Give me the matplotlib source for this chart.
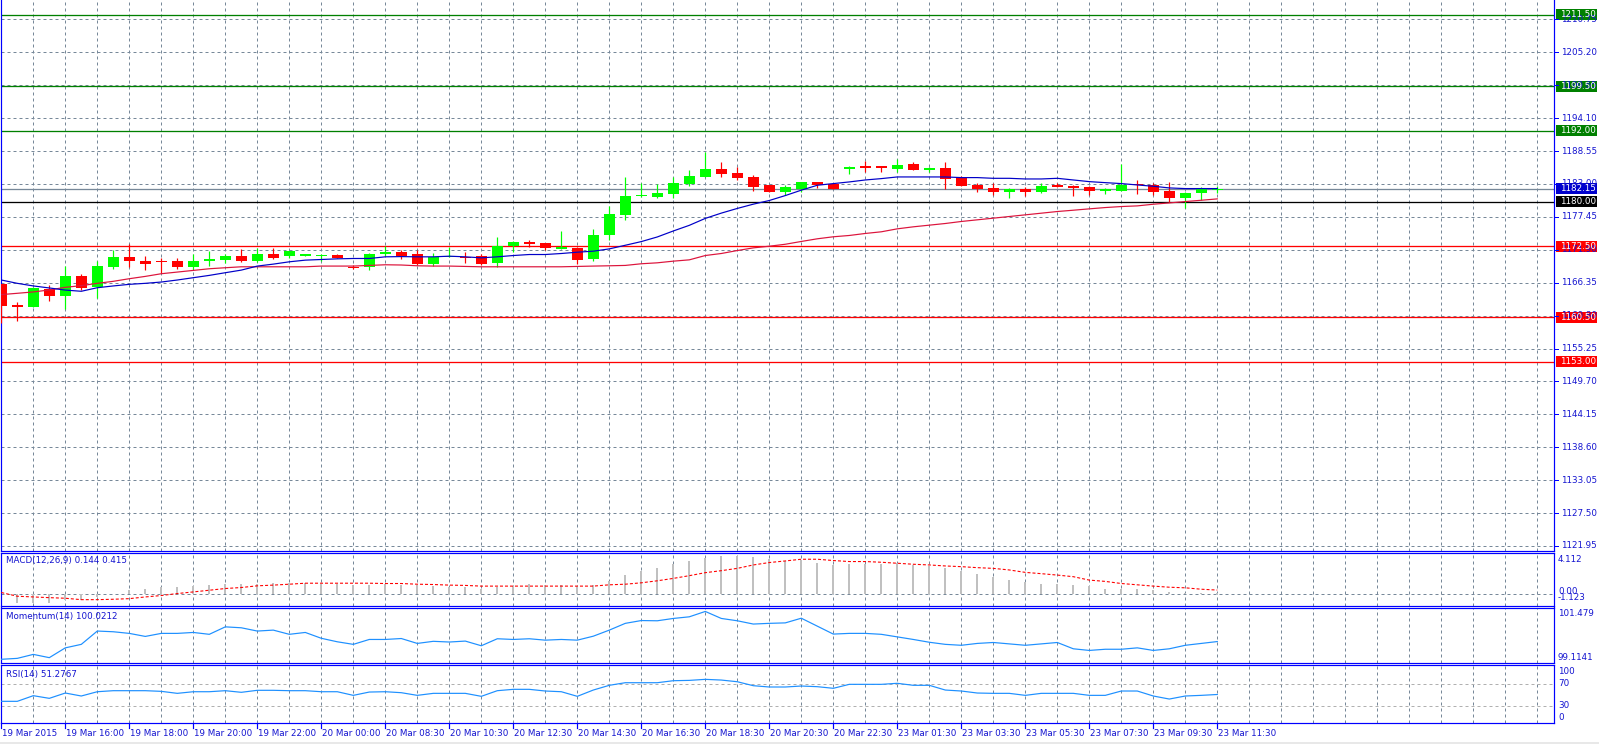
import matplotlib
matplotlib.use('Agg')
import matplotlib.pyplot as plt
from matplotlib import transforms
from matplotlib.patches import Rectangle

# ---------------- data ----------------
opens = [1166.07, 1162.55, 1162.27, 1165.35, 1164.12, 1167.41, 1165.63, 1168.92, 1170.60, 1170.09,
         1169.90, 1169.93, 1168.98, 1169.98, 1170.15, 1170.93, 1169.98, 1171.27, 1170.77, 1170.90,
         1170.82, 1171.10, 1168.98, 1168.98, 1171.16, 1171.49, 1171.27, 1169.42, 1170.71, 1170.60,
         1170.77, 1169.59, 1172.61, 1173.28, 1173.11, 1172.10, 1172.27, 1170.26, 1174.34, 1177.69,
         1180.90, 1180.82, 1181.38, 1183.00, 1184.17, 1185.51, 1184.84, 1184.17, 1182.89, 1181.66,
         1182.16, 1183.28, 1182.94, 1185.58, 1185.97, 1185.97, 1185.58, 1186.42, 1185.41, 1185.75,
         1183.95, 1182.89, 1182.38, 1181.71, 1182.22, 1181.71, 1182.89, 1182.72, 1182.55, 1181.88,
         1181.88, 1183.06, 1182.89, 1181.88, 1180.59, 1181.43, 1182.00]
highs = [1166.20, 1163.11, 1165.60, 1165.96, 1169.15, 1167.75, 1170.09, 1171.94, 1172.89, 1170.93,
         1170.49, 1170.43, 1171.27, 1171.72, 1171.27, 1172.11, 1172.27, 1172.27, 1171.70, 1171.00,
         1171.12, 1171.12, 1169.37, 1171.30, 1172.50, 1171.94, 1171.94, 1171.38, 1172.44, 1171.44,
         1171.27, 1174.12, 1173.30, 1173.61, 1173.12, 1175.12, 1172.30, 1175.46, 1179.31, 1184.17,
         1183.11, 1183.00, 1184.12, 1185.35, 1188.35, 1186.69, 1185.85, 1184.51, 1182.90, 1182.83,
         1183.30, 1183.30, 1183.17, 1186.08, 1186.87, 1186.08, 1187.26, 1186.70, 1185.80, 1186.76,
         1184.40, 1183.11, 1183.11, 1182.33, 1182.55, 1183.17, 1183.20, 1182.75, 1182.60, 1182.38,
         1186.36, 1183.73, 1183.17, 1183.39, 1181.60, 1182.55, 1182.60]
lows = [1159.48, 1159.93, 1162.20, 1163.28, 1161.83, 1165.20, 1163.84, 1168.64, 1169.03, 1168.47,
        1167.92, 1168.59, 1168.47, 1169.09, 1169.59, 1169.76, 1169.87, 1170.40, 1170.49, 1170.85,
        1170.09, 1170.45, 1168.59, 1168.47, 1170.82, 1170.26, 1169.40, 1169.15, 1170.70, 1169.59,
        1169.40, 1169.03, 1171.44, 1172.33, 1171.83, 1172.05, 1169.42, 1170.09, 1173.61, 1176.97,
        1180.80, 1180.65, 1180.71, 1182.72, 1184.10, 1184.17, 1183.67, 1181.83, 1181.60, 1181.16,
        1181.65, 1182.27, 1182.20, 1184.63, 1184.96, 1185.07, 1185.02, 1185.40, 1185.07, 1182.16,
        1182.70, 1181.71, 1181.15, 1180.70, 1180.93, 1181.49, 1182.50, 1181.04, 1181.15, 1181.32,
        1181.85, 1181.37, 1181.21, 1179.92, 1178.91, 1180.37, 1181.50]
closes = [1162.44, 1162.27, 1165.40, 1164.12, 1167.41, 1165.46, 1169.09, 1170.60, 1169.98, 1169.48,
          1169.80, 1168.98, 1170.09, 1170.32, 1170.77, 1169.98, 1171.27, 1170.49, 1171.66, 1171.00,
          1171.10, 1170.49, 1168.81, 1171.27, 1171.49, 1170.93, 1169.42, 1170.71, 1170.93, 1170.50,
          1169.42, 1172.50, 1173.28, 1172.94, 1172.16, 1172.27, 1170.15, 1174.45, 1177.97, 1180.99,
          1181.00, 1181.49, 1183.17, 1184.34, 1185.51, 1184.68, 1184.01, 1182.50, 1181.66, 1182.50,
          1183.28, 1182.78, 1182.22, 1185.91, 1185.75, 1185.63, 1186.25, 1185.41, 1185.75, 1183.90,
          1182.72, 1182.22, 1181.71, 1182.22, 1181.71, 1182.72, 1182.55, 1182.38, 1181.88, 1182.05,
          1182.89, 1182.83, 1181.71, 1180.59, 1181.54, 1182.22, 1182.15]

ma_fast = [1166.80, 1166.24, 1165.80, 1165.46, 1165.10, 1164.90, 1165.50, 1165.80, 1166.07, 1166.24,
           1166.46, 1166.80, 1167.19, 1167.58, 1168.03, 1168.47, 1169.15, 1169.48, 1169.87, 1170.15,
           1170.26, 1170.37, 1170.43, 1170.43, 1170.71, 1170.75, 1170.71, 1170.71, 1170.82, 1170.71,
           1170.54, 1170.71, 1170.93, 1171.10, 1171.10, 1171.27, 1171.49, 1171.66, 1172.05, 1172.66,
           1173.28, 1174.06, 1175.07, 1176.02, 1177.19, 1178.08, 1178.87, 1179.59, 1180.21, 1181.04,
           1181.95, 1182.78, 1183.06, 1183.34, 1183.67, 1183.90, 1184.18, 1184.18, 1184.18, 1184.18,
           1184.07, 1184.07, 1183.95, 1183.95, 1183.84, 1183.84, 1183.95, 1183.67, 1183.39, 1183.22,
           1183.06, 1182.83, 1182.61, 1182.33, 1182.22, 1182.22, 1182.22]
ma_slow = [1164.34, 1164.56, 1164.79, 1165.12, 1165.57, 1165.85, 1166.24, 1166.58, 1167.02, 1167.41,
           1167.86, 1168.14, 1168.42, 1168.70, 1168.87, 1169.03, 1169.03, 1169.03, 1169.03, 1169.03,
           1169.15, 1169.15, 1169.15, 1169.26, 1169.37, 1169.33, 1169.20, 1169.15, 1169.15, 1169.09,
           1169.03, 1169.03, 1169.03, 1169.03, 1169.03, 1169.03, 1169.09, 1169.15, 1169.20, 1169.26,
           1169.54, 1169.70, 1169.98, 1170.20, 1170.93, 1171.27, 1171.77, 1172.22, 1172.50, 1172.83,
           1173.30, 1173.75, 1174.09, 1174.31, 1174.65, 1174.93, 1175.43, 1175.77, 1176.05, 1176.33,
           1176.67, 1176.95, 1177.23, 1177.51, 1177.79, 1178.07, 1178.35, 1178.57, 1178.80, 1179.02,
           1179.19, 1179.30, 1179.58, 1179.80, 1180.03, 1180.25, 1180.48]

macd_hist = [-0.77, -0.87, -0.87, -0.87, -0.60, -0.54, -0.27, 0.07, 0.40, 0.57,
             0.74, 0.74, 0.84, 0.91, 1.00, 1.00, 1.00, 1.14, 1.17, 1.17,
             1.07, 1.00, 0.91, 0.91, 1.00, 0.91, 0.91, 0.84, 0.74, 0.74,
             0.57, 0.74, 0.87, 1.00, 0.91, 0.91, 0.84, 0.94, 1.31, 1.91,
             2.32, 2.62, 3.02, 3.32, 3.63, 3.83, 3.83, 3.76, 3.49, 3.36,
             3.42, 3.16, 2.92, 3.02, 3.02, 3.02, 3.09, 2.92, 2.82, 2.58,
             2.32, 2.01, 1.68, 1.41, 1.21, 1.07, 1.00, 0.91, 0.81, 0.57,
             0.57, 0.57, 0.47, 0.27, 0.13, 0.17, 0.144]
macd_signal = [0.17, -0.20, -0.27, -0.34, -0.40, -0.54, -0.54, -0.50, -0.44, -0.27,
               -0.13, 0.07, 0.23, 0.40, 0.57, 0.67, 0.84, 0.91, 1.00, 1.10,
               1.10, 1.10, 1.10, 1.10, 1.07, 1.07, 1.00, 0.97, 0.91, 0.88,
               0.81, 0.81, 0.81, 0.81, 0.81, 0.81, 0.81, 0.81, 0.94, 1.00,
               1.14, 1.34, 1.58, 1.85, 2.15, 2.35, 2.58, 2.92, 3.16, 3.32,
               3.49, 3.49, 3.36, 3.26, 3.26, 3.19, 3.09, 2.99, 2.92, 2.82,
               2.75, 2.65, 2.58, 2.42, 2.18, 2.05, 1.91, 1.75, 1.41, 1.28,
               1.07, 0.94, 0.81, 0.70, 0.64, 0.50, 0.415]
momentum = [99.26, 99.30, 99.47, 99.33, 99.75, 99.90, 100.47, 100.44, 100.37, 100.24,
            100.37, 100.37, 100.41, 100.33, 100.65, 100.61, 100.47, 100.51, 100.33, 100.41,
            100.16, 100.01, 99.90, 100.11, 100.11, 100.15, 99.94, 100.03, 100.00, 100.04,
            99.84, 100.14, 100.11, 100.14, 100.08, 100.11, 100.08, 100.25, 100.51, 100.80,
            100.92, 100.91, 101.01, 101.08, 101.31, 101.01, 100.91, 100.77, 100.80, 100.82,
            101.02, 100.68, 100.34, 100.37, 100.37, 100.33, 100.22, 100.11, 99.99, 99.90,
            99.86, 99.94, 99.98, 99.92, 99.86, 99.92, 99.98, 99.71, 99.64, 99.69,
            99.69, 99.75, 99.64, 99.71, 99.86, 99.94, 100.02]
rsi = [38.7, 38.7, 49.1, 44.2, 54.0, 48.5, 56.4, 58.3, 58.3, 58.3,
       57.1, 53.4, 56.4, 56.4, 58.3, 55.3, 59.0, 59.0, 58.3, 58.3,
       56.4, 56.4, 49.7, 55.8, 56.4, 54.6, 49.7, 53.4, 53.4, 53.4,
       47.9, 58.3, 60.8, 60.8, 57.7, 56.4, 47.9, 59.5, 68.2, 73.0,
       73.0, 73.0, 76.7, 77.3, 79.2, 77.9, 74.8, 67.5, 65.1, 65.1,
       66.9, 65.7, 62.7, 70.0, 70.0, 70.0, 71.9, 68.2, 68.2, 59.5,
       57.7, 54.0, 53.4, 53.4, 49.7, 53.4, 53.4, 53.4, 49.7, 49.7,
       57.7, 57.7, 48.5, 42.9, 48.5, 49.7, 51.3]

time_labels = ["19 Mar 2015", "19 Mar 16:00", "19 Mar 18:00", "19 Mar 20:00", "19 Mar 22:00",
               "20 Mar 00:00", "20 Mar 08:30", "20 Mar 10:30", "20 Mar 12:30", "20 Mar 14:30",
               "20 Mar 16:30", "20 Mar 18:30", "20 Mar 20:30", "20 Mar 22:30", "23 Mar 01:30",
               "23 Mar 03:30", "23 Mar 05:30", "23 Mar 07:30", "23 Mar 09:30", "23 Mar 11:30"]
label_step = 4

level_prices = [1211.50, 1199.50, 1192.00, 1182.15, 1180.00, 1172.50, 1160.50, 1153.00]
level_line_colors = ['#008000', '#008000', '#008000', '#778899', '#000000', '#FF0000', '#FF0000', '#FF0000']
level_box_colors = ['#008000', '#008000', '#008000', '#0000CD', '#000000', '#FF0000', '#FF0000', '#FF0000']

price_grid_start, price_grid_step, price_grid_n = 1121.95, 5.55, 17

macd_title = "MACD(12,26,9) 0.144 0.415"
mom_title = "Momentum(14) 100.0212"
rsi_title = "RSI(14) 51.2767"

# ---------------- layout ----------------
W, H, DPI = 1599, 744, 100
plt.rcParams['font.family'] = ['DejaVu Sans']
plt.rcParams['lines.scale_dashes'] = False
PX = 0.72  # points per pixel
AXC = '#0000FF'
TXT = '#1414D0'
GRID = '#778899'
FS = 6.3

fig = plt.figure(figsize=(W / DPI, H / DPI), dpi=DPI)
fig.patch.set_facecolor('white')


def px_axes(x0, y0, x1, y1):
    a = fig.add_axes([x0 / W, 1 - y1 / H, (x1 - x0) / W, (y1 - y0) / H])
    a.set_facecolor('white')
    for s in a.spines.values():
        s.set_color(AXC)
        s.set_linewidth(1.2 * PX)
    a.set_xticks([])
    a.set_yticks([])
    return a


X0, X1 = 1, 1554
BAR_PX, FIRST_PX = 16.0, 1.3
ax_main = px_axes(X0, 0, X1, 551)
ax_macd = px_axes(X0, 553, X1, 605.5)
ax_mom = px_axes(X0, 607.5, X1, 662.7)
ax_rsi = px_axes(X0, 664.7, X1, 723.3)
ax_main.spines['top'].set_visible(False)

xl = ((X0 - FIRST_PX) / BAR_PX, (X1 - FIRST_PX) / BAR_PX)
idx = list(range(len(closes)))
dash = (0, (3 * PX, 3 * PX))

main_ylim = (1205.20 - (551 - 52.3) / 5.93, 1205.20 + 52.3 / 5.93)
ax_main.set_ylim(*main_ylim)
ax_macd.set_ylim(-1.123, 4.112)
ax_mom.set_ylim(99.1141, 101.479)
ax_rsi.set_ylim(-1.8, 106.2)

for a in (ax_main, ax_macd, ax_mom, ax_rsi):
    a.set_xlim(*xl)
    k = 1
    while 2 * k < xl[1]:
        a.axvline(2 * k, color=GRID, lw=PX, linestyle=dash, zorder=1)
        k += 1

# main grid
grid_levels = [price_grid_start + price_grid_step * k for k in range(price_grid_n)]
for g in grid_levels:
    ax_main.axhline(g, color=GRID, lw=PX, linestyle=dash, zorder=1)

# horizontal levels
for p, c in zip(level_prices, level_line_colors):
    ax_main.axhline(p, color=c, lw=1.3 * PX, zorder=2)

# candles
for i in idx:
    o, h, l, c = opens[i], highs[i], lows[i], closes[i]
    col = '#00FF00' if c >= o else '#FF0000'
    ax_main.vlines(i, l, h, color=col, lw=1.2 * PX, zorder=4)
    lo = min(o, c)
    ht = max(abs(c - o), 0.22)
    ax_main.add_patch(Rectangle((i - 0.34, lo), 0.68, ht, facecolor=col, edgecolor='none',
                                zorder=4, antialiased=False))

ax_main.plot(idx, ma_slow, color='#DC143C', lw=1.2 * PX, zorder=5)
ax_main.plot(idx, ma_fast, color='#0000C8', lw=1.2 * PX, zorder=5)

# right tick labels for main
tr_main = transforms.blended_transform_factory(fig.transFigure, ax_main.transData)
for g in grid_levels:
    if g > main_ylim[1]:
        continue
    fig.add_artist(plt.Line2D([1554.5 / W, 1558 / W], [g, g], color=AXC, lw=PX, transform=tr_main))
    fig.text(1561 / W, g, f"{g:.2f}", transform=tr_main, fontsize=FS, color=TXT,
             va='center', ha='left')

box_h = 11 / 5.93
for p, bc in zip(level_prices, level_box_colors):
    fig.add_artist(Rectangle((1556 / W, p - box_h / 2), 41 / W, box_h, facecolor=bc,
                             edgecolor='none', transform=tr_main))
    fig.text(1560 / W, p, f"{p:.2f}", transform=tr_main, fontsize=FS, color='white',
             va='center', ha='left')

# MACD
ax_macd.axhline(0, color=GRID, lw=PX, linestyle=dash, zorder=1)
ax_macd.bar(idx, macd_hist, width=2.2 / BAR_PX, color='#C0C0C0', zorder=2)
ax_macd.plot(idx, macd_signal, color='#FF0000', lw=1.1 * PX, linestyle=(0, (3 * PX, 2 * PX)), zorder=3)

# Momentum
ax_mom.plot(idx, momentum, color='#1E90FF', lw=1.2 * PX, zorder=3)

# RSI
for lv in (70, 30):
    ax_rsi.axhline(lv, color='#B0B0B0', lw=PX, linestyle=dash, zorder=1)
ax_rsi.plot(idx, rsi, color='#1E90FF', lw=1.2 * PX, zorder=3)


def ftext(x, y, s, **kw):
    fig.text(x / W, 1 - y / H, s, fontsize=FS, color=TXT, va='center', ha='left', **kw)


ftext(6, 561, macd_title)
ftext(6, 616.5, mom_title)
ftext(6, 675, rsi_title)

ftext(1558, 559, "4.112")
ftext(1558, 591.5, "0.00")
ftext(1558, 598, "-1.123")
ftext(1558, 614, "101.479")
ftext(1558, 657, "99.1141")
ftext(1558, 672, "100")
ftext(1558, 684, "70")
ftext(1558, 705.5, "30")
ftext(1558, 717, "0")

# x axis ticks & labels
for j, lab in enumerate(time_labels):
    xpx = FIRST_PX + BAR_PX * j * label_step
    fig.add_artist(plt.Line2D([xpx / W, xpx / W], [1 - 723.3 / H, 1 - 727.5 / H], color=AXC, lw=1.2 * PX))
    ftext(xpx + 1, 733.5, lab)

# bottom window strip
fig.add_artist(Rectangle((0, 0), 1, 2.5 / H, transform=fig.transFigure, facecolor='#E8E8E8',
                         edgecolor='none'))

fig.savefig('out.png', dpi=DPI, facecolor='white')
